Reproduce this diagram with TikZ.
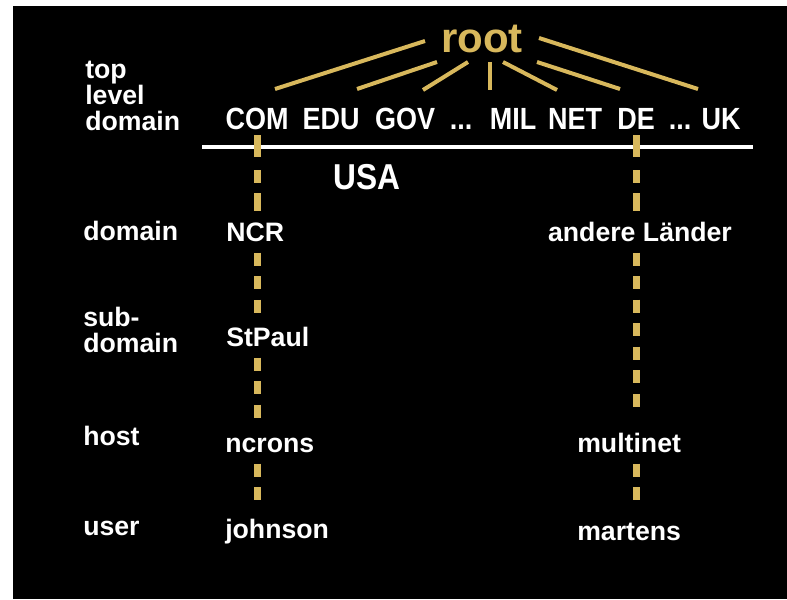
\documentclass[tikz,border=0pt]{standalone}
\usepackage{fontspec}
\setmainfont{Liberation Sans}
\newfontfamily\narrowfont{Liberation Sans}[FakeStretch=0.88]
\usepackage{tikz}
\usetikzlibrary{positioning}
\definecolor{Gold}{HTML}{D8B85C}
\newcommand{\tlddots}{...}

\begin{document}
\begin{tikzpicture}[x=0.75pt,y=-0.75pt,
    lvl/.style={anchor=base west,inner sep=0pt,text=white,align=left,font=\fontsize{20}{19.5}\selectfont\bfseries},
    entry/.style={anchor=base west,inner sep=0pt,text=white,text height=14pt,text depth=0pt,font=\fontsize{20}{24}\selectfont\bfseries},
    tld/.style={anchor=base,inner sep=0pt,text=white,text height=16.5pt,text depth=0pt,font=\narrowfont\bfseries\fontsize{23}{27}\selectfont},
    link/.style={draw=Gold,line width=5.25pt,dash pattern=on 9.75pt off 7.9pt,shorten <=8.5pt,shorten >=8pt},
    toplink/.style={link,dash pattern=on 16.5pt off 9.75pt on 9.75pt off 7.5pt,shorten <=4.5pt},
    branch/.style={draw=Gold,line width=3pt}
]
% background
\fill[white] (0,0) rectangle (787,599);
\fill[black] (13,6) rectangle (787,599);

% level labels
\node[lvl] (tldlabel) at (85,130) {top\\level\\domain};
\node[lvl] (domlabel) at (83,240) {domain};
\node[lvl] (sublabel) at (83,352) {sub-\\domain};
\node[lvl] (hostlabel) at (83,445) {host};
\node[lvl] (userlabel) at (83,535) {user};

% root and top level domains
\node[anchor=base,inner sep=0pt,text=Gold,font=\fontsize{31.5}{36}\selectfont\bfseries] (root) at (482,53) {root};
\foreach \name/\txt/\x in {com/COM/257,edu/EDU/331,gov/GOV/405,dotsa/\tlddots/461,mil/MIL/513,net/NET/575,de/DE/636,dotsb/\tlddots/680,uk/UK/721}
    \node[tld] (\name) at (\x,129) {\txt};
\foreach \xa/\ya/\xb/\yb in {425/41/275/89,437/62/357/89,468/62/423/90,490/62/490/90,503/62/557/90,537/62/620/89,539/38/698/89}
    \draw[branch] (\xa,\ya) -- (\xb,\yb);
\draw[white,line width=3pt] (202,147) -- (753,147);

% USA
\node[entry,font=\narrowfont\bfseries\fontsize{27}{30}\selectfont] (usa) at (333,189) {USA};
\node[entry] (ncr) at (226,241) {NCR};
\node[entry] (stpaul) at (226,346) {StPaul};
\node[entry] (ncrons) at (225,452) {ncrons};
\node[entry] (johnson) at (225,538) {johnson};

% other countries
\node[entry,anchor=base] (land) at (640,241) {andere Länder};
\node[entry] (multinet) at (577,452) {multinet};
\node[entry] (martens) at (577,540) {martens};

% dashed paths
\draw[toplink] (com.south) -- (com.south |- ncr.north);
\draw[link] (com.south |- ncr.south) -- (com.south |- stpaul.north);
\draw[link] (com.south |- stpaul.south) -- (com.south |- ncrons.north);
\draw[link] (com.south |- ncrons.south) -- (com.south |- johnson.north);
\draw[toplink] (de.south) -- (de.south |- land.north);
\draw[link,shorten >=14pt] (de.south |- land.south) -- (de.south |- multinet.north);
\draw[link] (de.south |- multinet.south) -- (de.south |- martens.north);
\end{tikzpicture}
\end{document}
